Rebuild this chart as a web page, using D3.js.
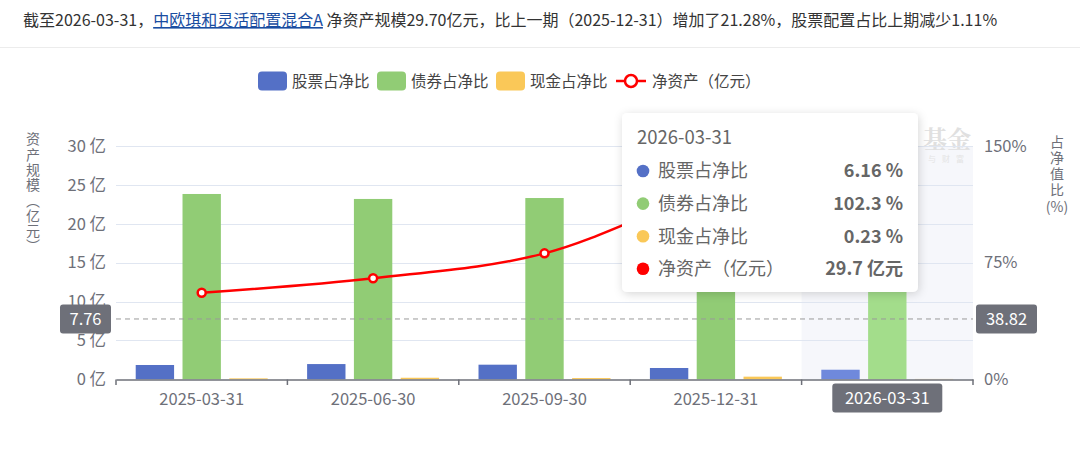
<!DOCTYPE html>
<html>
<head>
<meta charset="utf-8">
<script src="https://cdn.jsdelivr.net/npm/d3@7"></script>
<style>
  body { margin: 0; background: #fff; font-family: "Noto Sans CJK SC", "Noto Sans", sans-serif; }
  svg { display: block; }
</style>
</head>
<body>
<div id="chart"></div>
<script>
// Data
const dates = ["2025-03-31", "2025-06-30", "2025-09-30", "2025-12-31", "2026-03-31"];
const stockPct = [9.2, 9.8, 9.4, 7.27, 6.16];
const bondPct = [119.2, 116.0, 116.6, 112.0, 102.3];
const cashPct = [0.6, 1.0, 0.8, 1.7, 0.23];
const netAsset = [11.14, 13.0, 16.2, 24.49, 29.7];
const seriesNames = ["股票占净比", "债券占净比", "现金占净比", "净资产（亿元）"];
const leftTicks = [0, 5, 10, 15, 20, 25, 30];
const rightTicks = [0, 75, 150];
const hoverIndex = 4;
const pointerLabels = [7.76, 38.82];

const colors = ["#5470c6", "#91cc75", "#fac858", "#ff0000"];
const hoverColors = ["#6f89dc", "#a3dd8b", "#fbd478"];
const font = '"Noto Sans CJK SC", "Noto Sans", sans-serif';

const W = 1080, H = 450;
const svg = d3.select("#chart").append("svg").attr("width", W).attr("height", H)
    .style("font-family", font);

const defs = svg.append("defs");
const shadow = defs.append("filter").attr("id", "tipShadow")
    .attr("x", "-10%").attr("y", "-10%").attr("width", "120%").attr("height", "130%");
shadow.append("feDropShadow").attr("dx", 1).attr("dy", 2).attr("stdDeviation", 5)
    .attr("flood-color", "#000").attr("flood-opacity", 0.16);

// Header line
const head = svg.append("text").attr("x", 23).attr("y", 26).attr("font-size", 16).attr("fill", "#333");
head.append("tspan").text("截至2026-03-31，");
head.append("tspan").text("中欧琪和灵活配置混合A").attr("fill", "#1a4da1").attr("text-decoration", "underline");
head.append("tspan").text(" 净资产规模29.70亿元，比上一期（2025-12-31）增加了21.28%，股票配置占比上期减少1.11%");
svg.append("line").attr("x1", 0).attr("x2", W).attr("y1", 47.5).attr("y2", 47.5)
    .attr("stroke", "#ececec");

// Scales
const x = d3.scaleBand().domain(dates).range([116, 973]).padding(0);
const bw = x.bandwidth();
const inner = d3.scaleBand().domain([0, 1, 2])
    .range([bw * 0.115, bw * 0.885]).paddingInner(0.18).paddingOuter(0);
const yL = d3.scaleLinear().domain([0, 30]).range([379.3, 146.1]);
const yR = d3.scaleLinear().domain([0, 150]).range([379.3, 146.1]);

// Hover shadow band
svg.append("rect")
    .attr("x", x(dates[hoverIndex])).attr("width", bw)
    .attr("y", yL(30)).attr("height", yL(0) - yL(30))
    .attr("fill", "#f6f7fb");

// Watermark (visible part right of the tooltip)
svg.append("text").attr("x", 971).attr("y", 148).attr("text-anchor", "end")
    .attr("font-size", 24).attr("font-weight", "bold").attr("fill", "#e0e0e0")
    .attr("font-family", '"Noto Serif CJK SC", "Noto Sans CJK SC", serif')
    .text("基金");
svg.append("text").attr("x", 970).attr("y", 162).attr("text-anchor", "end")
    .attr("font-size", 8).attr("fill", "#e4e4e4").attr("letter-spacing", 6)
    .text("与财富");

// Grid lines
svg.append("g").selectAll("line").data(leftTicks.filter(d => d > 0)).join("line")
    .attr("x1", 116).attr("x2", 973)
    .attr("y1", d => Math.round(yL(d)) + 0.5).attr("y2", d => Math.round(yL(d)) + 0.5)
    .attr("stroke", "#e0e6f1");

// Left axis labels
const yAxisL = d3.axisLeft(yL).tickValues(leftTicks).tickSize(0).tickPadding(10)
    .tickFormat(d => d + " 亿");
const gL = svg.append("g").attr("transform", "translate(116,0)").call(yAxisL);
gL.select(".domain").remove();
gL.selectAll("text").attr("font-size", 16.5).attr("fill", "#6e7079").attr("font-family", font);

// Right axis labels
const yAxisR = d3.axisRight(yR).tickValues(rightTicks).tickSize(0).tickPadding(11)
    .tickFormat(d => d + "%");
const gR = svg.append("g").attr("transform", "translate(973,0)").call(yAxisR);
gR.select(".domain").remove();
gR.selectAll("text").attr("font-size", 16.5).attr("fill", "#6e7079").attr("font-family", font);

// Bars
const barSeries = [stockPct, bondPct, cashPct];
barSeries.forEach((vals, s) => {
    svg.append("g").selectAll("rect").data(vals).join("rect")
        .attr("x", (d, i) => x(dates[i]) + inner(s))
        .attr("width", inner.bandwidth())
        .attr("y", d => yR(d))
        .attr("height", d => yR(0) - yR(d))
        .attr("fill", (d, i) => i === hoverIndex ? hoverColors[s] : colors[s]);
});

// X axis
const xAxis = d3.axisBottom(x).tickSize(0).tickPadding(14);
const gX = svg.append("g").attr("transform", "translate(0,379.5)").call(xAxis);
gX.select(".domain").attr("stroke", "#6e7079").attr("stroke-width", 1.5);
gX.selectAll("text").attr("font-size", 16.5).attr("fill", "#6e7079").attr("font-family", font);
svg.append("g").selectAll("line").data(d3.range(dates.length + 1)).join("line")
    .attr("x1", i => 116 + i * bw).attr("x2", i => 116 + i * bw)
    .attr("y1", 379.5).attr("y2", 385).attr("stroke", "#6e7079").attr("stroke-width", 1.5);

// Net asset line
const line = d3.line()
    .x((d, i) => x(dates[i]) + bw / 2)
    .y(d => yL(d))
    .curve(d3.curveMonotoneX);
svg.append("path").datum(netAsset).attr("d", line)
    .attr("fill", "none").attr("stroke", colors[3]).attr("stroke-width", 2.5);
svg.append("g").selectAll("circle").data(netAsset).join("circle")
    .attr("cx", (d, i) => x(dates[i]) + bw / 2).attr("cy", d => yL(d))
    .attr("r", 4).attr("fill", "#fff").attr("stroke", colors[3]).attr("stroke-width", 2.5);

// Crosshair
const cy = yL(pointerLabels[0]);
svg.append("line").attr("x1", 116).attr("x2", 973).attr("y1", cy).attr("y2", cy)
    .attr("stroke", "#999").attr("stroke-dasharray", "5,4");
function labelBox(cx, cyy, w, h, txt) {
    svg.append("rect").attr("x", cx - w / 2).attr("y", cyy - h / 2).attr("width", w).attr("height", h)
        .attr("rx", 3).attr("fill", "#6e7079");
    svg.append("text").attr("x", cx).attr("y", cyy).attr("dy", "0.36em").attr("text-anchor", "middle")
        .attr("font-size", 16.5).attr("fill", "#fff").text(txt);
}
labelBox(85.5, cy, 51, 29, pointerLabels[0].toFixed(2));
labelBox(1006.5, cy, 61, 29, pointerLabels[1].toFixed(2));
labelBox(x(dates[hoverIndex]) + bw / 2, 398, 110, 29, dates[hoverIndex]);

// Axis titles (vertical)
svg.append("text").attr("x", 33).attr("y", 132)
    .style("writing-mode", "vertical-rl").style("text-orientation", "upright")
    .attr("font-size", 14).attr("letter-spacing", 1.3).attr("fill", "#6e7079")
    .text("资产规模（亿元）");
svg.append("text").attr("x", 1057).attr("y", 135)
    .style("writing-mode", "vertical-rl").style("text-orientation", "upright")
    .attr("font-size", 14).attr("letter-spacing", 2).attr("fill", "#6e7079")
    .text("占净值比");
svg.append("text").attr("x", 1057).attr("y", 207).attr("dy", "0.35em").attr("text-anchor", "middle")
    .attr("font-size", 14).attr("fill", "#6e7079").text("(%)");

// Legend
const legend = svg.append("g").attr("transform", "translate(0,81)");
const legX = [258, 377, 496, 616];
seriesNames.forEach((name, i) => {
    const g = legend.append("g").attr("transform", `translate(${legX[i]},0)`);
    if (i < 3) {
        g.append("rect").attr("x", 0).attr("y", -9.5).attr("width", 29).attr("height", 19)
            .attr("rx", 4).attr("fill", colors[i]);
    } else {
        g.append("line").attr("x1", 0).attr("x2", 30).attr("y1", 0).attr("y2", 0)
            .attr("stroke", colors[3]).attr("stroke-width", 2.5);
        g.append("circle").attr("cx", 15).attr("cy", 0).attr("r", 6)
            .attr("fill", "#fff").attr("stroke", colors[3]).attr("stroke-width", 2.5);
    }
    g.append("text").attr("x", i < 3 ? 34 : 36).attr("y", 0).attr("dy", "0.36em")
        .attr("font-size", 15.5).attr("fill", "#444").text(name);
});

// Tooltip
const tip = svg.append("g").attr("transform", "translate(622,113)");
tip.append("rect").attr("width", 296).attr("height", 179).attr("rx", 5)
    .attr("fill", "#fff").attr("filter", "url(#tipShadow)");
tip.append("text").attr("x", 15).attr("y", 24).attr("dy", "0.36em")
    .attr("font-size", 18.5).attr("fill", "#666").text(dates[hoverIndex]);
const tipVals = [
    stockPct[hoverIndex] + " %",
    bondPct[hoverIndex] + " %",
    cashPct[hoverIndex] + " %",
    netAsset[hoverIndex] + " 亿元"
];
seriesNames.forEach((name, i) => {
    const yy = 58 + i * 32.6;
    tip.append("circle").attr("cx", 21).attr("cy", yy).attr("r", 6.3).attr("fill", colors[i]);
    tip.append("text").attr("x", 36).attr("y", yy).attr("dy", "0.36em")
        .attr("font-size", 18).attr("fill", "#666").text(name);
    tip.append("text").attr("x", 281).attr("y", yy).attr("dy", "0.36em").attr("text-anchor", "end")
        .attr("font-size", 18).attr("font-weight", "bold").attr("fill", "#666").text(tipVals[i]);
});
</script>
</body>
</html>
